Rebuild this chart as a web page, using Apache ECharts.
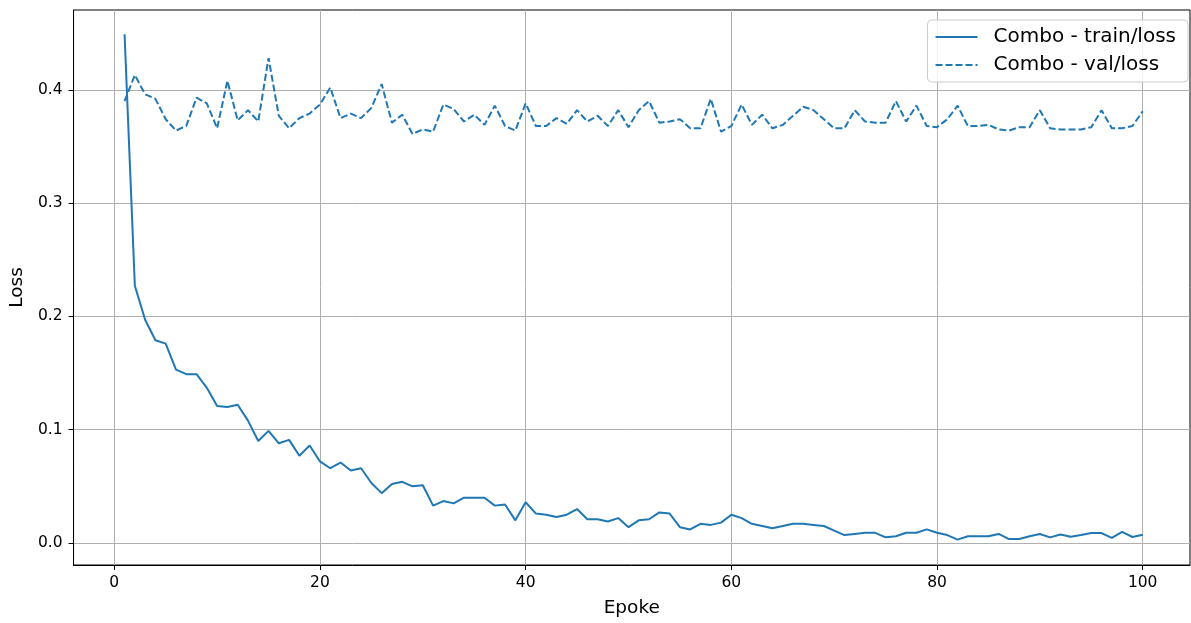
<!DOCTYPE html>
<html>
<head>
<meta charset="utf-8">
<script src="https://cdn.jsdelivr.net/npm/echarts@6/dist/echarts.min.js"></script>
<style>html,body{margin:0;padding:0;background:#fff}#c{width:1191px;height:623px}</style>
</head>
<body>
<div id="c"></div>
<script>
const epochs = Array.from({length: 100}, (_, i) => i + 1);
const trainLoss = [
0.449,0.227,0.197,0.179,0.176,0.153,0.149,0.149,0.137,0.121,
0.120,0.122,0.108,0.090,0.099,0.088,0.091,0.077,0.086,0.072,
0.066,0.071,0.064,0.066,0.053,0.044,0.052,0.054,0.050,0.051,
0.033,0.037,0.035,0.040,0.040,0.040,0.033,0.034,0.020,0.036,
0.026,0.025,0.023,0.025,0.030,0.021,0.021,0.019,0.022,0.014,
0.020,0.021,0.027,0.026,0.014,0.012,0.017,0.016,0.018,0.025,
0.022,0.017,0.015,0.013,0.015,0.017,0.017,0.016,0.015,0.011,
0.007,0.008,0.009,0.009,0.005,0.006,0.009,0.009,0.012,0.009,
0.007,0.003,0.006,0.006,0.006,0.008,0.0035,0.0035,0.006,0.008,
0.005,0.0075,0.0055,0.007,0.0088,0.0088,0.0045,0.0098,0.0053,0.0073];
const valLoss = [
0.390,0.413,0.396,0.392,0.374,0.364,0.368,0.393,0.388,0.366,
0.408,0.373,0.382,0.372,0.428,0.377,0.366,0.375,0.379,0.387,
0.402,0.375,0.379,0.375,0.384,0.405,0.371,0.378,0.361,0.365,
0.363,0.387,0.383,0.372,0.378,0.369,0.386,0.368,0.364,0.388,
0.368,0.368,0.375,0.370,0.382,0.372,0.377,0.368,0.382,0.367,
0.382,0.390,0.371,0.372,0.374,0.366,0.366,0.392,0.363,0.368,
0.387,0.369,0.378,0.366,0.369,0.377,0.385,0.382,0.374,0.366,
0.366,0.382,0.372,0.371,0.371,0.390,0.372,0.386,0.368,0.367,
0.374,0.386,0.368,0.368,0.369,0.365,0.364,0.367,0.367,0.382,
0.366,0.365,0.365,0.365,0.367,0.382,0.366,0.366,0.368,0.381];
const xTicks = [0, 20, 40, 60, 80, 100];
const yTicks = [0, 0.1, 0.2, 0.3, 0.4];

const font = 'DejaVu Sans';
const chart = echarts.init(document.getElementById('c'), null, {renderer: 'canvas'});
chart.setOption({
  animation: false,
  backgroundColor: '#fff',
  grid: {left: 72, right: 1, top: 10, bottom: 56, show: true, borderColor: '#000', borderWidth: 1, backgroundColor: 'transparent'},
  legend: {
    top: 20, right: 3, orient: 'vertical',
    itemWidth: 42, itemHeight: 20, itemGap: 8,
    padding: [7, 12, 7, 7],
    itemStyle: {opacity: 0},
    backgroundColor: 'rgba(255,255,255,0.8)', borderColor: '#cccccc', borderWidth: 1, borderRadius: 4,
    textStyle: {fontFamily: font, fontSize: 20, lineHeight: 20, color: '#000', padding: [0, 0, 0, 11]},
    data: ['Combo - train/loss', 'Combo - val/loss']
  },
  xAxis: {
    type: 'value', min: -3.96, max: 104.6,
    name: 'Epoke', nameLocation: 'middle', nameGap: 34,
    nameTextStyle: {fontFamily: font, fontSize: 18.5, color: '#000'},
    axisLine: {show: true, onZero: false, lineStyle: {color: '#000', width: 1}},
    axisTick: {show: true, length: 5, lineStyle: {color: '#000'}, customValues: xTicks},
    axisLabel: {fontFamily: font, fontSize: 15.5, color: '#000', margin: 10, customValues: xTicks},
    splitLine: {show: true, lineStyle: {color: '#b0b0b0', width: 1}}
  },
  yAxis: {
    type: 'value', min: -0.0194, max: 0.4704,
    name: 'Loss', nameLocation: 'middle', nameGap: 45, nameRotate: 90,
    nameTextStyle: {fontFamily: font, fontSize: 18.5, color: '#000'},
    axisLine: {show: true, onZero: false, lineStyle: {color: '#000', width: 1}},
    axisTick: {show: true, length: 5, lineStyle: {color: '#000'}, customValues: yTicks},
    axisLabel: {fontFamily: font, fontSize: 15.5, color: '#000', margin: 11, customValues: yTicks,
      formatter: v => v.toFixed(1)},
    splitLine: {show: true, lineStyle: {color: '#b0b0b0', width: 1}}
  },
  series: [
    {name: 'Combo - train/loss', type: 'line', symbol: 'none', data: epochs.map((e, i) => [e, trainLoss[i]]),
      lineStyle: {color: '#1f77b4', width: 2}, itemStyle: {color: '#1f77b4'}},
    {name: 'Combo - val/loss', type: 'line', symbol: 'none', data: epochs.map((e, i) => [e, valLoss[i]]),
      lineStyle: {color: '#1f77b4', width: 2, type: [7, 3]}, itemStyle: {color: '#1f77b4'}}
  ]
});
</script>
</body>
</html>
